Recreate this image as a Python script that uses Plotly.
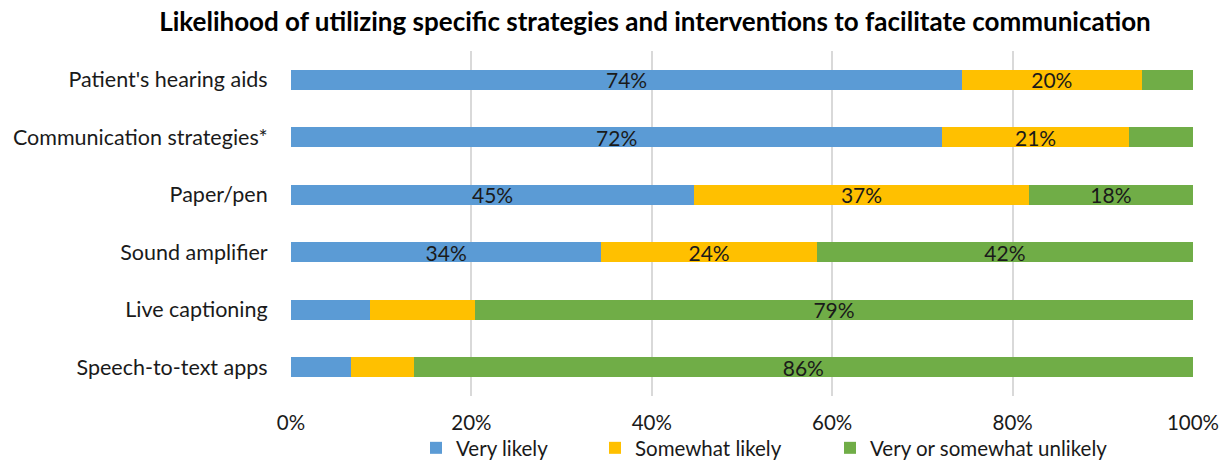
import plotly.graph_objects as go

categories = ["Patient's hearing aids", "Communication strategies*", "Paper/pen",
              "Sound amplifier", "Live captioning", "Speech-to-text apps"]
very_likely = [74.4, 72.2, 44.7, 34.4, 8.8, 6.7]
somewhat_likely = [19.9, 20.7, 37.1, 23.9, 11.6, 6.9]
unlikely = [5.7, 7.1, 18.2, 41.7, 79.6, 86.4]
very_likely_lbl = ["74%", "72%", "45%", "34%", "", ""]
somewhat_likely_lbl = ["20%", "21%", "37%", "24%", "", ""]
unlikely_lbl = ["", "", "18%", "42%", "79%", "86%"]
series_names = ["Very likely", "Somewhat likely", "Very or somewhat unlikely"]
colors = ["#5B9BD5", "#FFC000", "#70AD47"]
x_ticks = [0, 20, 40, 60, 80, 100]
x_tick_text = ["0%", "20%", "40%", "60%", "80%", "100%"]

FONT = "Lato"
fig = go.Figure()
data = [(very_likely, very_likely_lbl), (somewhat_likely, somewhat_likely_lbl), (unlikely, unlikely_lbl)]
legends = ["legend", "legend2", "legend3"]
for i, (vals, lbls) in enumerate(data):
    fig.add_trace(go.Bar(
        y=categories, x=vals, orientation="h", name=series_names[i],
        marker=dict(color=colors[i], line=dict(width=0)),
        text=lbls, textposition="inside", insidetextanchor="middle",
        constraintext="none", textangle=0,
        textfont=dict(family=FONT, size=21, color="#1a1a1a"),
        hoverinfo="skip", legend=legends[i],
    ))

L, R = 291, 1193
def px2paper(px):
    return (px - L) / (R - L)

leg_common = dict(orientation="h", yanchor="bottom", y=-0.2087, xanchor="left",
                  font=dict(family=FONT, size=20.5, color="#1a1a1a"),
                  bgcolor="rgba(0,0,0,0)", itemclick=False)
fig.update_layout(
    width=1227, height=468,
    margin=dict(l=L, r=1227 - R, t=51, b=72, autoexpand=False),
    barmode="stack", bargap=0.65,
    plot_bgcolor="white", paper_bgcolor="white",
    title=dict(text="<b>Likelihood of utilizing specific strategies and interventions to facilitate communication</b>",
               x=655 / 1227, xanchor="center", xref="container", y=1 - 22 / 468, yanchor="middle",
               font=dict(family=FONT, size=26, color="#000000")),
    xaxis=dict(range=[0, 100], tickvals=x_ticks, ticktext=x_tick_text,
               showgrid=True, gridcolor="#D9D9D9", gridwidth=1.5, zeroline=False,
               ticks="outside", ticklen=8, tickcolor="rgba(0,0,0,0)", automargin=False,
               tickfont=dict(family=FONT, size=20.5, color="#1a1a1a"), showline=False),
    yaxis=dict(autorange="reversed", showgrid=False, ticks="outside", ticklen=18,
               tickcolor="rgba(0,0,0,0)", automargin=False,
               tickfont=dict(family=FONT, size=21.5, color="#1a1a1a"), showline=False),
    legend=dict(x=px2paper(416), **leg_common),
    legend2=dict(x=px2paper(595), **leg_common),
    legend3=dict(x=px2paper(830), **leg_common),
    showlegend=True,
)
fig.write_html("out.html")
